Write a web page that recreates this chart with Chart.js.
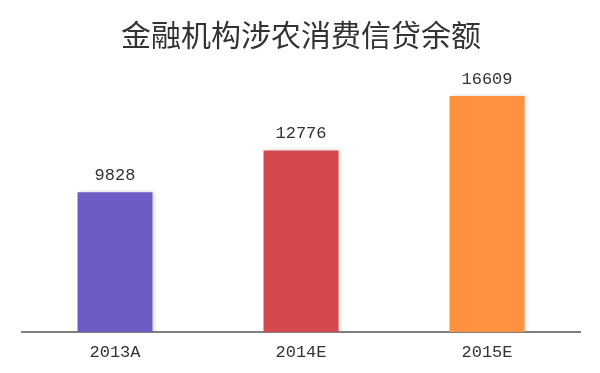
<!DOCTYPE html>
<html><head><meta charset="utf-8">
<script src="https://cdn.jsdelivr.net/npm/chart.js@4/dist/chart.umd.min.js"></script>
<style>html,body{margin:0;padding:0;background:#fff}#wrap{width:600px;height:373px}</style>
</head><body><div id="wrap"><canvas id="c" width="600" height="373"></canvas></div>
<script>
const titleText = '金融机构涉农消费信贷余额';
const categories = ['2013A', '2014E', '2015E'];
const values = [9828, 12776, 16609];
const barColors = ['#6c5cc4', '#d5484e', '#ff9140'];

const shadowPlugin = {
  id: 'shadow',
  beforeDatasetsDraw(chart) {
    const ctx = chart.ctx;
    ctx.save();
    ctx.shadowColor = 'rgba(0,0,0,0.18)';
    ctx.shadowBlur = 4;
    ctx.shadowOffsetX = 2;
    ctx.shadowOffsetY = 0;
  },
  afterDatasetsDraw(chart) {
    chart.ctx.restore();
    const ctx = chart.ctx;
    const meta = chart.getDatasetMeta(0);
    ctx.save();
    ctx.font = '17px "Liberation Mono", "DejaVu Sans Mono", monospace';
    ctx.fillStyle = '#333';
    ctx.textAlign = 'center';
    ctx.textBaseline = 'alphabetic';
    meta.data.forEach((bar, i) => {
      ctx.fillText(String(values[i]), bar.x, bar.y - 12);
    });
    ctx.restore();
  }
};

new Chart(document.getElementById('c'), {
  type: 'bar',
  data: {
    labels: categories,
    datasets: [{
      data: values,
      backgroundColor: barColors,
      borderWidth: 0,
      categoryPercentage: 1,
      barPercentage: 0.403
    }]
  },
  options: {
    responsive: false,
    animation: false,
    devicePixelRatio: 1,
    layout: { padding: { left: 22, right: 20, top: 0, bottom: 0 } },
    plugins: {
      legend: { display: false },
      tooltip: { enabled: false },
      title: {
        display: true,
        text: titleText,
        color: '#333',
        font: { family: '"Noto Sans CJK SC", sans-serif', size: 30, weight: 'normal' },
        padding: { top: 17, bottom: 9 }
      }
    },
    scales: {
      x: {
        grid: { display: false, drawTicks: false },
        border: { display: true, color: '#808080', width: 2 },
        ticks: {
          color: '#333',
          padding: 12,
          font: { family: '"Liberation Mono", "DejaVu Sans Mono", monospace', size: 17, lineHeight: 1 }
        }
      },
      y: {
        display: false,
        min: 0,
        max: 19000
      }
    }
  },
  plugins: [shadowPlugin]
});
</script>
</body></html>
